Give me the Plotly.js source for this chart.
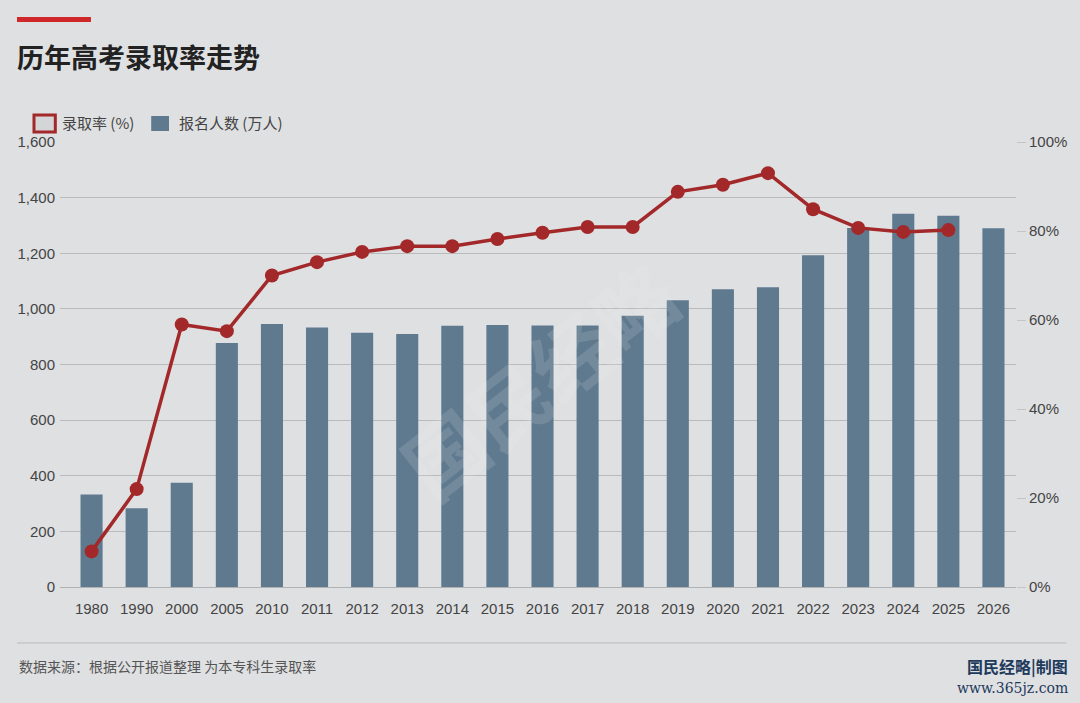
<!DOCTYPE html>
<html>
<head>
<meta charset="utf-8">
<script src="https://cdn.plot.ly/plotly-3.0.1.min.js"></script>
<style>
html,body{margin:0;padding:0;background:#dfe0e2;}
#chart{width:1080px;height:703px;}
</style>
</head>
<body>
<div id="chart"></div>
<script>
const years = ['1980','1990','2000','2005','2010','2011','2012','2013','2014','2015','2016','2017','2018','2019','2020','2021','2022','2023','2024','2025','2026'];
const applicants = [333,283,375,877,946,933,914,910,939,942,940,940,975,1031,1071,1078,1193,1291,1342,1335,1290];
const rateYears = ['1980','1990','2000','2005','2010','2011','2012','2013','2014','2015','2016','2017','2018','2019','2020','2021','2022','2023','2024','2025'];
const admitRate = [8,22,59,57.5,70,73,75.3,76.6,76.6,78.2,79.6,80.9,80.9,88.8,90.4,93,84.9,80.7,79.8,80.2];
const leftTicks = [0,200,400,600,800,1000,1200,1400,1600];
const rightTicks = [0,20,40,60,80,100];

const FONT = '"Liberation Sans", Arial, "Noto Sans CJK SC", sans-serif';
const CJK = '"Noto Sans CJK SC", "Liberation Sans", sans-serif';

const traces = [
  {
    type:'bar', x:years, y:applicants, name:'报名人数 (万人)',
    marker:{color:'#5f7a8f'}, hoverinfo:'skip', showlegend:false
  },
  {
    type:'scatter', mode:'lines+markers', x:rateYears, y:admitRate, yaxis:'y2',
    name:'录取率 (%)', line:{color:'#a3282a', width:3.5},
    marker:{color:'#a3282a', size:14}, hoverinfo:'skip', showlegend:false
  }
];

const layout = {
  width:1080, height:703,
  paper_bgcolor:'#dfe0e2', plot_bgcolor:'rgba(0,0,0,0)',
  margin:{l:60, r:64, t:142, b:116},
  bargap:0.51,
  showlegend:false,
  font:{family:FONT, color:'#555'},
  xaxis:{
    type:'category', range:[-0.7, 20.5], showgrid:false, zeroline:false,
    showline:false, ticks:'', tickfont:{size:15, color:'#444', family:FONT},
    ticklabelstandoff:11, fixedrange:true
  },
  yaxis:{
    range:[0,1600], tickvals:leftTicks, ticktext:leftTicks.map(v=>v.toLocaleString('en-US')),
    showgrid:true, gridcolor:'#b9babc', gridwidth:1, zeroline:true, zerolinecolor:'#b0b1b3',
    showline:false, ticks:'', tickfont:{size:15, color:'#444', family:FONT}, ticklabelstandoff:4
  },
  yaxis2:{
    overlaying:'y', side:'right', range:[0,100], tickvals:rightTicks,
    ticktext:rightTicks.map(v=>v+'%'), showgrid:false, zeroline:false, showline:false,
    ticks:'outside', ticklen:9, tickcolor:'#c4c5c7', tickfont:{size:15, color:'#444', family:FONT}
  },
  shapes:[
    {type:'rect', xref:'paper', yref:'paper', x0:-0.0450, x1:0.0324, y0:1.2697, y1:1.2809, line:{width:0}, fillcolor:'#d0282a'},
    {type:'line', xref:'paper', yref:'paper', x0:-0.0448, x1:1.0526, y0:-0.1258, y1:-0.1258, line:{color:'#b8b9bb', width:1}},
    {type:'rect', xref:'paper', yref:'paper', x0:-0.0272, x1:-0.0049, y0:1.0225, y1:1.0607, line:{color:'#a3282a', width:3}, fillcolor:'#d4d5d7'},
    {type:'rect', xref:'paper', yref:'paper', x0:0.0954, x1:0.1140, y0:1.0247, y1:1.0584, line:{width:0}, fillcolor:'#5f7a8f'}
  ],
  annotations:[
    {xref:'paper', yref:'paper', x:-0.0470, y:1.1926, xanchor:'left', yanchor:'middle', showarrow:false,
     text:'<b>历年高考录取率走势</b>', font:{family:CJK, size:27, color:'#222'}},
    {xref:'paper', yref:'paper', x:0.0,  y:1.0427, xanchor:'left', yanchor:'middle', showarrow:false,
     text:'录取率 (%)', font:{family:CJK, size:15, color:'#444'}},
    {xref:'paper', yref:'paper', x:0.1225, y:1.0427, xanchor:'left', yanchor:'middle', showarrow:false,
     text:'报名人数 (万人)', font:{family:CJK, size:15, color:'#444'}},
    {xref:'paper', yref:'paper', x:-0.0455, y:-0.1775, xanchor:'left', yanchor:'middle', showarrow:false,
     text:'数据来源：根据公开报道整理 为本专科生录取率', font:{family:CJK, size:14, color:'#555'}},
    {xref:'paper', yref:'paper', x:1.0568, y:-0.1775, xanchor:'right', yanchor:'middle', showarrow:false,
     text:'<b>国民经略|制图</b>', font:{family:CJK, size:16, color:'#1e3a5c'}},
    {xref:'paper', yref:'paper', x:1.0568, y:-0.2270, xanchor:'right', yanchor:'middle', showarrow:false,
     text:'www.365jz.com', font:{family:'"DejaVu Serif", serif', size:14, color:'#1e3a5c'}},
    {xref:'paper', yref:'paper', x:0.50, y:0.47, xanchor:'center', yanchor:'middle', showarrow:false,
     textangle:-38, text:'<b>国民经略</b>', font:{family:CJK, size:80, color:'rgba(240,242,244,0.14)'}}
  ]
};

Plotly.newPlot('chart', traces, layout, {displayModeBar:false, staticPlot:true});
</script>
</body>
</html>
